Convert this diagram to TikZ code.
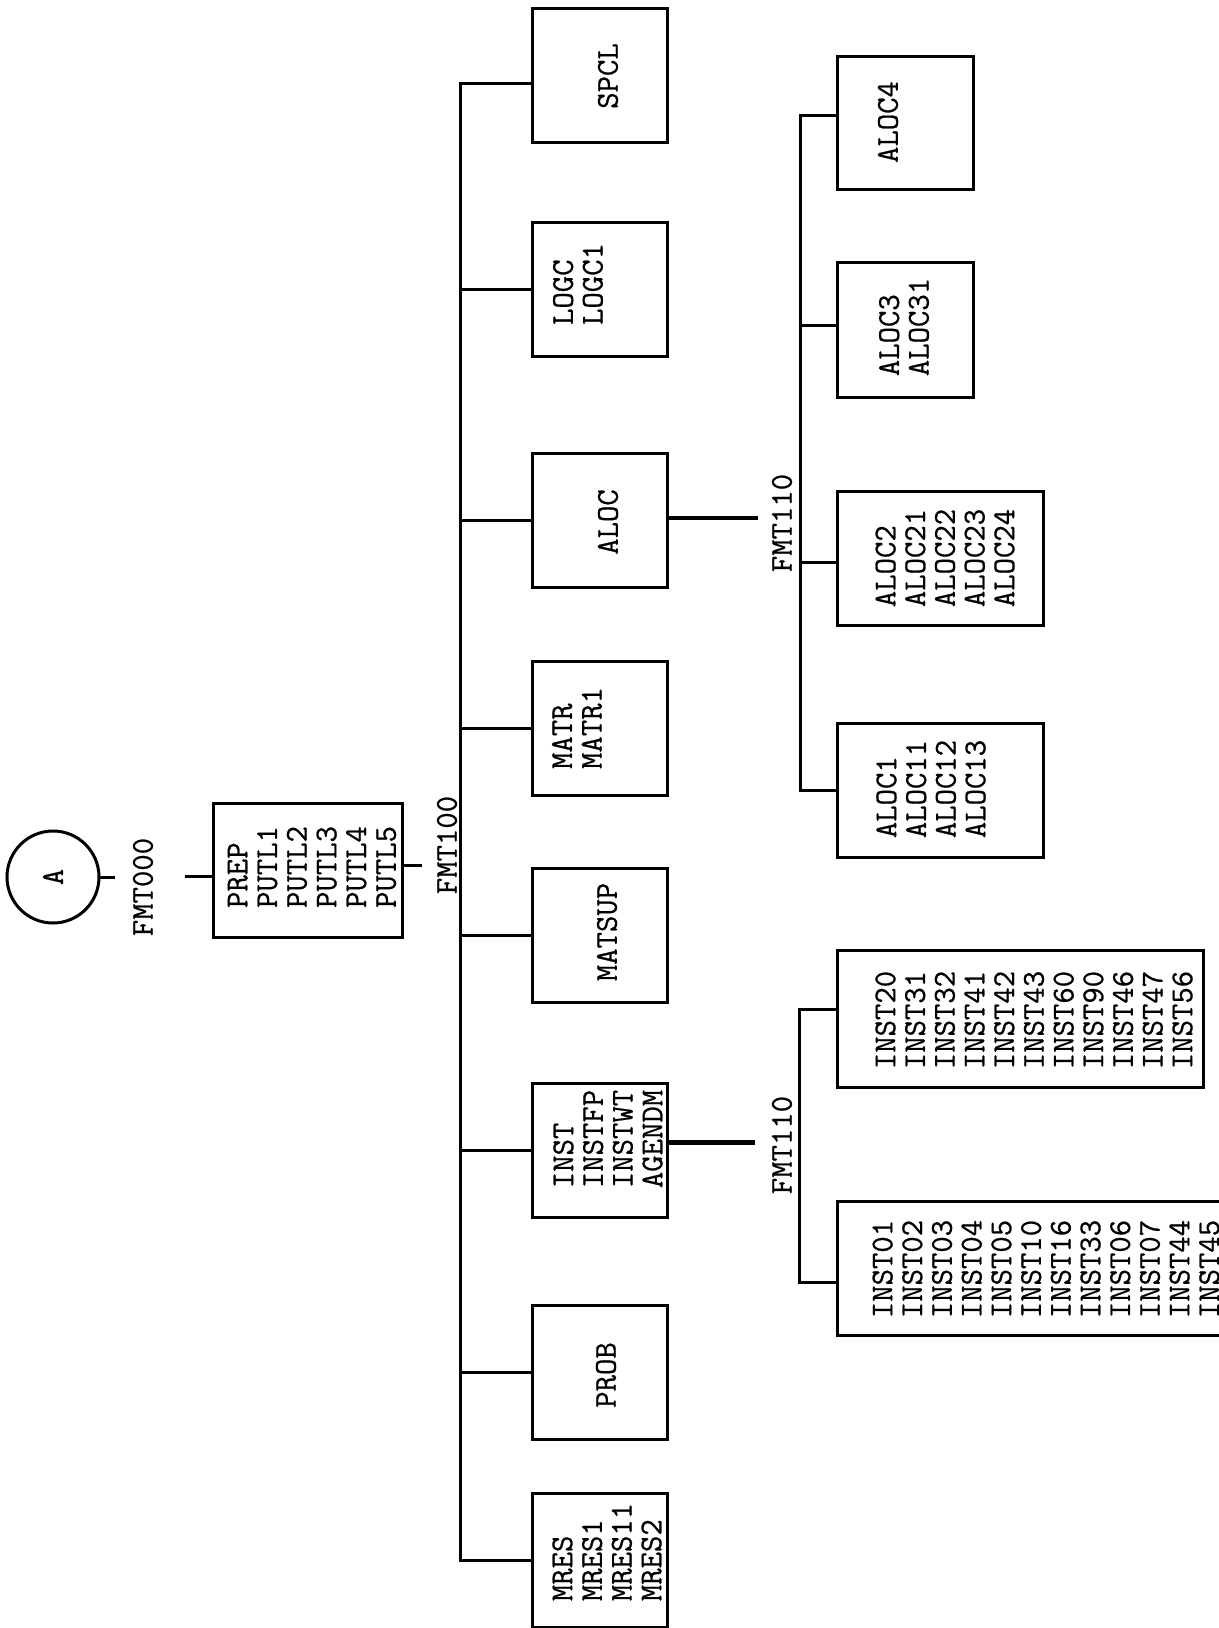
\documentclass[tikz,border=0pt]{standalone}
\usepackage{fontspec}
\newfontfamily\twfont[FakeBold=0.7]{Latin Modern Mono}
\begin{document}
\begin{tikzpicture}[x=0.5pt,y=-0.5pt,
  every node/.style={inner sep=0pt, outer sep=0pt},
  wire/.style={line width=1.5pt},
  stub/.style={line width=2.2pt},
  mbox/.style={draw, line width=1.5pt, minimum width=67.5pt, minimum height=67pt},
  lbl/.style={rotate=90, align=left, font=\twfont\fontsize{15.9}{14.85}\selectfont}]
\useasboundingbox (0,0) rectangle (1219,1628);
\clip (0,0) rectangle (1219,1628);
% start circle and PREP
\node[draw, circle, line width=1.5pt, minimum size=46pt] (A) at (53,877) {};
\node[lbl] (tA) at (53,877) {A};
\node[lbl] (fmt000) at (143,887) {FMT000};
\node[draw, line width=1.5pt, minimum width=94.5pt, minimum height=67pt] (prep) at (307.5,870) {};
\node[lbl] (tprep) at (312,867) {PREP\\PUTL1\\PUTL2\\PUTL3\\PUTL4\\PUTL5};
\node[lbl] (fmt100) at (447,845) {FMT100};
% main column
\node[mbox] (spcl) at (599.5,75) {};
\node[lbl] (tspcl) at (608,76) {SPCL};
\node[mbox] (logc) at (599.5,289) {};
\node[lbl] (tlogc) at (578,284) {LOGC\\LOGC1};
\node[mbox] (aloc) at (599.5,520) {};
\node[lbl] (taloc) at (608,522) {ALOC};
\node[mbox] (matr) at (599.5,728.5) {};
\node[lbl] (tmatr) at (577,728) {MATR\\MATR1};
\node[mbox] (matsup) at (599.5,935) {};
\node[lbl] (tmatsup) at (607,932) {MATSUP};
\node[mbox] (inst) at (599.5,1150.5) {};
\node[lbl] (tinst) at (608,1139) {INST\\INSTFP\\INSTWT\\AGENDM};
\node[mbox] (prob) at (599.5,1372) {};
\node[lbl] (tprob) at (606,1375) {PROB};
\node[mbox] (mres) at (599.5,1560) {};
\node[lbl] (tmres) at (607,1552) {MRES\\MRES1\\MRES11\\MRES2};
% ALOC sub-tree
\node[lbl] (fmt110a) at (782,523) {FMT110};
\node[draw, line width=1.5pt, minimum width=68pt, minimum height=66.5pt] (aloc4) at (905,122.5) {};
\node[lbl] (taloc4) at (888,122) {ALOC4};
\node[draw, line width=1.5pt, minimum width=68pt, minimum height=67.5pt] (aloc3) at (905,329.5) {};
\node[lbl] (taloc3) at (904,327) {ALOC3\\ALOC31};
\node[draw, line width=1.5pt, minimum width=103pt, minimum height=67pt] (aloc2) at (940,558) {};
\node[lbl] (taloc2) at (945,558) {ALOC2\\ALOC21\\ALOC22\\ALOC23\\ALOC24};
\node[draw, line width=1.5pt, minimum width=103pt, minimum height=67pt] (aloc1) at (940,790) {};
\node[lbl] (taloc1) at (931,789) {ALOC1\\ALOC11\\ALOC12\\ALOC13};
% INST sub-tree
\node[lbl] (fmt110b) at (782,1145) {FMT110};
\node[draw, line width=1.5pt, minimum width=183pt, minimum height=68.5pt] (inst20) at (1020,1018.5) {};
\node[lbl] (tinst20) at (1034,1020) {INST20\\INST31\\INST32\\INST41\\INST42\\INST43\\INST60\\INST90\\INST46\\INST47\\INST56};
\node[draw, line width=1.5pt, minimum width=203pt, minimum height=67pt] (inst01) at (1040,1268) {};
\node[lbl] (tinst01) at (1046,1269) {INST01\\INST02\\INST03\\INST04\\INST05\\INST10\\INST16\\INST33\\INST06\\INST07\\INST44\\INST45};
% connectors: start
\coordinate (a0) at (115,0);
\draw[wire] (A.east) -- (A.east -| a0);
\coordinate (p0) at (185,0);
\coordinate (pw) at ([yshift=-3pt]prep.west);
\draw[wire] (pw) -- (pw -| p0);
\coordinate (p1) at (422,0);
\coordinate (pe) at ([yshift=2.5pt]prep.east);
\draw[wire] (pe) -- (pe -| p1);
% main bus
\coordinate (bus) at (460,0);
\coordinate (sw) at ([yshift=-4pt]spcl.west);
\draw[wire] (sw) -| (bus |- mres.west) -- (mres.west);
\foreach \n in {logc,aloc,matr,matsup,inst,prob}
  \draw[wire] (\n.west) -- (bus |- \n.west);
% ALOC stub and bus
\coordinate (aend) at (758,0);
\coordinate (ae) at ([yshift=1pt]aloc.east);
\draw[stub] (ae) -- (ae -| aend);
\coordinate (abus) at (800,0);
\coordinate (a4w) at ([yshift=3.75pt]aloc4.west);
\draw[wire] (a4w) -| (abus |- aloc1.west) -- (aloc1.west);
\coordinate (a3w) at ([yshift=2pt]aloc3.west);
\draw[wire] (a3w) -- (abus |- a3w);
\coordinate (a2w) at ([yshift=-2pt]aloc2.west);
\draw[wire] (a2w) -- (abus |- a2w);
% INST stub and bus
\coordinate (iend) at (755,0);
\coordinate (ie) at ([yshift=4pt]inst.east);
\draw[line width=2.6pt] (ie) -- (ie -| iend);
\coordinate (ibus) at (799,0);
\coordinate (i20w) at ([yshift=4.75pt]inst20.west);
\coordinate (i01w) at ([yshift=-7pt]inst01.west);
\draw[wire] (i20w) -| (ibus |- i01w) -- (i01w);
\end{tikzpicture}
\end{document}
